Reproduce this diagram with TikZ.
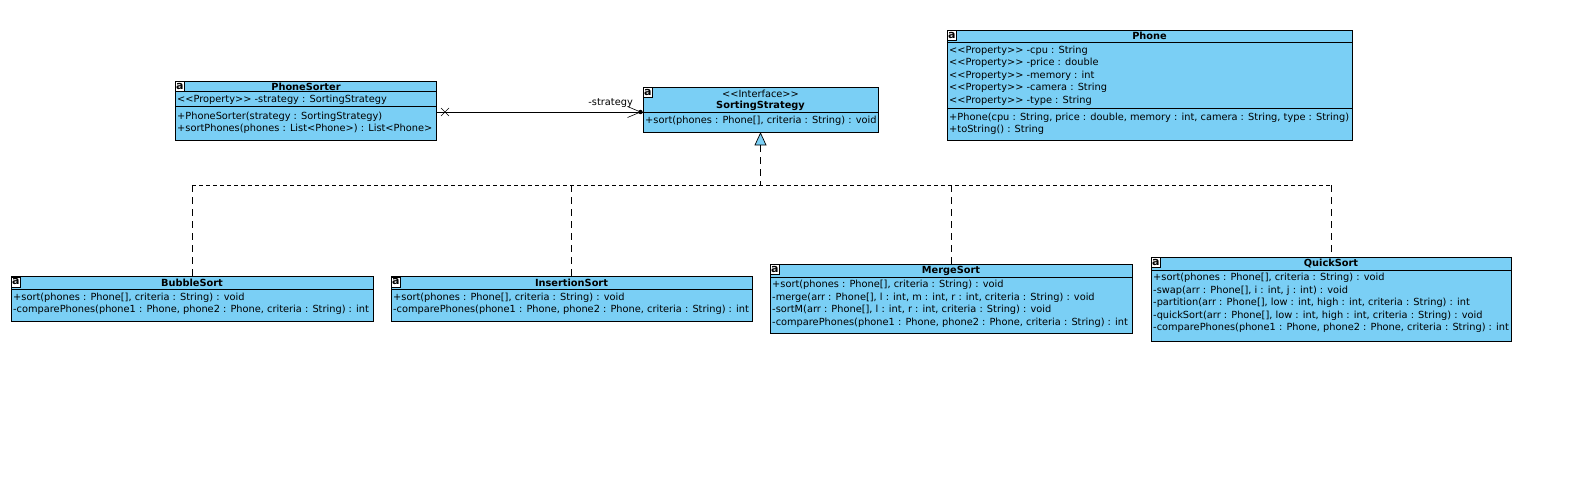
\documentclass[tikz,border=0pt]{standalone}
\usepackage{fontspec}
\setmainfont{DejaVu Sans}[Ligatures=TeXOff]
\definecolor{umlblue}{RGB}{122,207,245}
\tikzset{
  cls/.style={draw=black, fill=umlblue, line width=0.8pt, anchor=north west, inner sep=0pt, outer sep=0pt},
  sepline/.style={line width=0.8pt},
  txt/.style={anchor=west, inner sep=0pt, font=\fontsize{9.8}{11}\selectfont},
  ttl/.style={anchor=center, inner sep=0pt, font=\fontsize{9.8}{11}\selectfont\bfseries},
  stereo/.style={anchor=center, inner sep=0pt, font=\fontsize{9.8}{11}\selectfont},
  icon/.style={draw=black, fill=white, line width=0.6pt, inner sep=0pt, anchor=north west,
    minimum width=9pt, minimum height=10pt, font=\fontsize{11}{11}\selectfont\bfseries},
  vdash/.style={line width=0.7pt, dash pattern=on 7pt off 5pt},
  hdash/.style={line width=0.7pt, dash pattern=on 4pt off 3pt},
  assoc/.style={line width=0.8pt},
}
\begin{document}
\begin{tikzpicture}[x=1pt, y=-1pt]
\useasboundingbox[fill=white] (0,0) rectangle (1586,499);

% ---------- PhoneSorter ----------
\node[cls, minimum width=261pt, minimum height=59pt] (ps) at (175,81) {};
\node[icon] (psi) at (175,81) {a};
\draw[sepline] (ps.west |- 0,91.5) -- (ps.east |- 0,91.5);
\draw[sepline] (ps.west |- 0,106.5) -- (ps.east |- 0,106.5);
\node[ttl] (pst) at (306,86.5) {PhoneSorter};
\node[txt] (psa1) at (177,99.5) {<<Property>> -strategy : SortingStrategy};
\node[txt] (psm1) at (177,116.5) {+PhoneSorter(strategy : SortingStrategy)};
\node[txt] (psm2) at (177,129) {+sortPhones(phones : List<Phone>) : List<Phone>};

% ---------- SortingStrategy ----------
\node[cls, minimum width=235pt, minimum height=45pt] (ss) at (643,87) {};
\node[icon] (ssi) at (643,87) {a};
\draw[sepline] (ss.west |- 0,112.5) -- (ss.east |- 0,112.5);
\node[stereo] (sss) at (760.5,94) {<<Interface>>};
\node[ttl] (sst) at (760.5,106) {SortingStrategy};
\node[txt] (ssm1) at (645,120.5) {+sort(phones : Phone[], criteria : String) : void};

% ---------- Phone ----------
\node[cls, minimum width=405pt, minimum height=110pt] (ph) at (947,30) {};
\node[icon] (phi) at (947,30) {a};
\draw[sepline] (ph.west |- 0,42) -- (ph.east |- 0,42);
\draw[sepline] (ph.west |- 0,108) -- (ph.east |- 0,108);
\node[ttl] (pht) at (1149.5,36) {Phone};
\node[txt] (pha1) at (949,50.5) {<<Property>> -cpu : String};
\node[txt] (pha2) at (949,63) {<<Property>> -price : double};
\node[txt] (pha3) at (949,75.5) {<<Property>> -memory : int};
\node[txt] (pha4) at (949,88) {<<Property>> -camera : String};
\node[txt] (pha5) at (949,100.5) {<<Property>> -type : String};
\node[txt] (phm1) at (949,117.5) {+Phone(cpu : String, price : double, memory : int, camera : String, type : String)};
\node[txt] (phm2) at (949,130) {+toString() : String};

% ---------- BubbleSort ----------
\node[cls, minimum width=362pt, minimum height=45pt] (bs) at (11,276.5) {};
\node[icon] (bsi) at (11,276.5) {a};
\draw[sepline] (bs.west |- 0,289.5) -- (bs.east |- 0,289.5);
\node[ttl] (bst) at (192,283) {BubbleSort};
\node[txt] (bsm1) at (13,297.5) {+sort(phones : Phone[], criteria : String) : void};
\node[txt] (bsm2) at (13,310) {-comparePhones(phone1 : Phone, phone2 : Phone, criteria : String) : int};

% ---------- InsertionSort ----------
\node[cls, minimum width=361pt, minimum height=45pt] (is) at (391,276.5) {};
\node[icon] (isi) at (391,276.5) {a};
\draw[sepline] (is.west |- 0,289.5) -- (is.east |- 0,289.5);
\node[ttl] (ist) at (571.5,283) {InsertionSort};
\node[txt] (ism1) at (393,297.5) {+sort(phones : Phone[], criteria : String) : void};
\node[txt] (ism2) at (393,310) {-comparePhones(phone1 : Phone, phone2 : Phone, criteria : String) : int};

% ---------- MergeSort ----------
\node[cls, minimum width=362pt, minimum height=69pt] (ms) at (770,264) {};
\node[icon] (msi) at (770,264) {a};
\draw[sepline] (ms.west |- 0,277) -- (ms.east |- 0,277);
\node[ttl] (mst) at (951,270.5) {MergeSort};
\node[txt] (msm1) at (772,285) {+sort(phones : Phone[], criteria : String) : void};
\node[txt] (msm2) at (772,297.5) {-merge(arr : Phone[], l : int, m : int, r : int, criteria : String) : void};
\node[txt] (msm3) at (772,310) {-sortM(arr : Phone[], l : int, r : int, criteria : String) : void};
\node[txt] (msm4) at (772,322.5) {-comparePhones(phone1 : Phone, phone2 : Phone, criteria : String) : int};

% ---------- QuickSort ----------
\node[cls, minimum width=360pt, minimum height=84pt] (qs) at (1151,257) {};
\node[icon] (qsi) at (1151,257) {a};
\draw[sepline] (qs.west |- 0,270) -- (qs.east |- 0,270);
\node[ttl] (qst) at (1331,263.5) {QuickSort};
\node[txt] (qsm1) at (1153,278) {+sort(phones : Phone[], criteria : String) : void};
\node[txt] (qsm2) at (1153,290.5) {-swap(arr : Phone[], i : int, j : int) : void};
\node[txt] (qsm3) at (1153,303) {-partition(arr : Phone[], low : int, high : int, criteria : String) : int};
\node[txt] (qsm4) at (1153,315.5) {-quickSort(arr : Phone[], low : int, high : int, criteria : String) : void};
\node[txt] (qsm5) at (1153,328) {-comparePhones(phone1 : Phone, phone2 : Phone, criteria : String) : int};

% ---------- Association PhoneSorter -> SortingStrategy ----------
\coordinate (aS) at (ps.east |- 0,112);
\coordinate (aE) at (ss.west |- 0,112);
\coordinate (tip) at ([xshift=-2.5pt]aE);
\draw[assoc] (aS) -- (aE);
\draw[line width=0.6pt] ([xshift=5pt,yshift=-4pt]aS) -- ([xshift=13pt,yshift=4pt]aS)
                        ([xshift=5pt,yshift=4pt]aS) -- ([xshift=13pt,yshift=-4pt]aS);
\draw[line width=0.6pt] ([xshift=-13pt,yshift=-5.5pt]tip) -- (tip) -- ([xshift=-13pt,yshift=5.5pt]tip);
\fill (tip) circle (2.2pt);
\node[txt, anchor=east] (lbl) at (633,103) {-strategy};

% ---------- Realization ----------
\coordinate (apex) at (ss.south |- 0,133);
\coordinate (tbase) at (ss.south |- 0,145);
\coordinate (bus) at (ss.south |- 0,185);
\draw[line width=0.7pt, fill=umlblue] (apex) -- ([xshift=-5.5pt]tbase) -- ([xshift=5.5pt]tbase) -- cycle;
\draw[vdash] (tbase) -- (bus);
\draw[hdash] (bs.north |- bus) -- (qs.north |- bus);
\draw[vdash] (bs.north |- bus) -- (bs.north);
\draw[vdash] (is.north |- bus) -- (is.north);
\draw[vdash] (ms.north |- bus) -- (ms.north);
\draw[vdash] (qs.north |- bus) -- (qs.north);
\end{tikzpicture}
\end{document}
